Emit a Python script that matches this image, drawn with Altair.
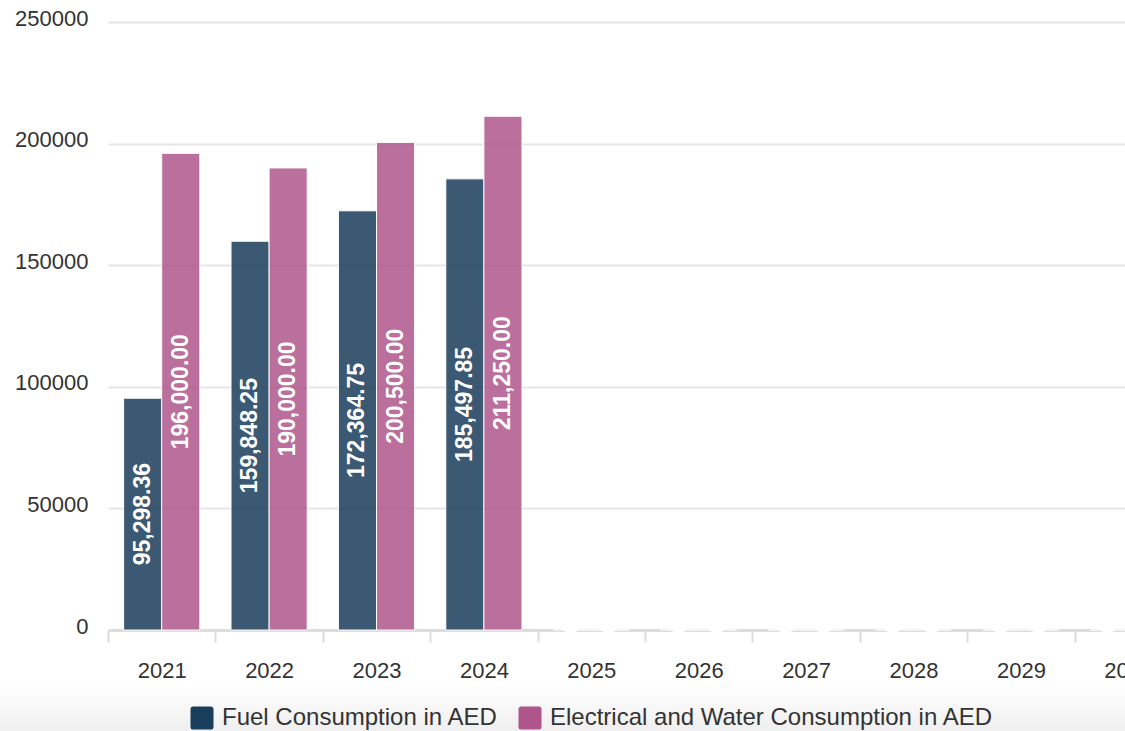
import altair as alt
import pandas as pd

# Yearly consumption figures (AED)
years = ["2021", "2022", "2023", "2024", "2025", "2026", "2027", "2028", "2029", "2030"]
fuel_values = [95298.36, 159848.25, 172364.75, 185497.85, 0, 0, 0, 0, 0, 0]
elec_values = [196000.00, 190000.00, 200500.00, 211250.00, 0, 0, 0, 0, 0, 0]

series_names = ["Fuel Consumption in AED", "Electrical and Water Consumption in AED"]
series_colors = ["#1a3d5a", "#ae568c"]
y_ticks = [0, 50000, 100000, 150000, 200000, 250000]

rows = []
for name, vals in zip(series_names, [fuel_values, elec_values]):
    for yr, v in zip(years, vals):
        rows.append({"year": yr, "series": name, "value": v})
df = pd.DataFrame(rows)

FONT = "Liberation Sans"
PLOT_W = 1017
PLOT_H = 608
STEP = 107.4

# rounded square used for the legend swatches
rounded_square = (
    "M-0.75,-1 H0.75 Q1,-1 1,-0.75 V0.75 Q1,1 0.75,1 H-0.75 "
    "Q-1,1 -1,0.75 V-0.75 Q-1,-1 -0.75,-1 Z"
)

x_enc = alt.X(
    "year:N",
    sort=years,
    scale=alt.Scale(range=[0, STEP * len(years)], paddingInner=0, paddingOuter=0),
    axis=alt.Axis(
        title=None,
        labelAngle=0,
        labelFont=FONT,
        labelFontSize=22,
        labelColor="#333333",
        labelPadding=18,
        tickBand="extent",
        tickSize=12,
        tickWidth=2,
        tickColor="#dddddd",
        domainColor="#dddddd",
        domainWidth=3,
        grid=False,
    ),
)
xoff_enc = alt.XOffset(
    "series:N", sort=series_names, scale=alt.Scale(paddingOuter=0.41, paddingInner=0)
)
y_scale = alt.Scale(domain=[0, 250000], nice=False)

bars = alt.Chart(df).mark_bar(opacity=0.85, stroke="white", strokeWidth=1).encode(
    x=x_enc,
    xOffset=xoff_enc,
    y=alt.Y(
        "value:Q",
        scale=y_scale,
        axis=alt.Axis(
            title=None,
            values=y_ticks,
            format="d",
            labelFont=FONT,
            labelFontSize=22,
            labelColor="#333333",
            labelPadding=20,
            labelOffset=-4,
            ticks=False,
            domain=False,
            grid=True,
            gridColor="#e6e6e6",
            gridWidth=2,
        ),
    ),
    color=alt.Color(
        "series:N",
        sort=series_names,
        scale=alt.Scale(domain=series_names, range=series_colors),
        legend=alt.Legend(
            title=None,
            orient="none",
            direction="horizontal",
            legendX=82,
            legendY=684,
            padding=0,
            symbolType=rounded_square,
            symbolSize=529,
            symbolOpacity=1,
            symbolStrokeWidth=0,
            labelFont=FONT,
            labelFontSize=24,
            labelColor="#333333",
            labelOffset=8,
            columnPadding=19,
            labelLimit=600,
        ),
    ),
)

labels = alt.Chart(df).transform_calculate(
    mid="datum.value / 2"
).mark_text(
    angle=270,
    color="white",
    font=FONT,
    fontSize=23,
    fontWeight="bold",
    align="center",
    baseline="middle",
).encode(
    x=alt.X("year:N", sort=years),
    xOffset=alt.XOffset("series:N", sort=series_names),
    y=alt.Y("mid:Q", scale=y_scale),
    text=alt.Text("value:Q", format=",.2f"),
)

# soft shading behind the legend strip
shade = alt.Chart(pd.DataFrame({"k": [0]})).mark_rect(
    color=alt.LinearGradient(
        gradient="linear",
        stops=[
            alt.GradientStop(color="#ffffff", offset=0),
            alt.GradientStop(color="#efefef", offset=1),
        ],
        x1=0, x2=0, y1=0, y2=1,
    )
).encode(
    x=alt.value(-108),
    x2=alt.value(PLOT_W),
    y=alt.value(662),
    y2=alt.value(710),
)

chart = alt.layer(shade, bars, labels).properties(
    width=PLOT_W,
    height=PLOT_H,
    autosize=alt.AutoSizeParams(type="none"),
    padding={"left": 108, "top": 22, "right": 0, "bottom": 101},
).configure_view(strokeWidth=0)

chart.save("out.html", embed_options={"renderer": "svg", "actions": False})
